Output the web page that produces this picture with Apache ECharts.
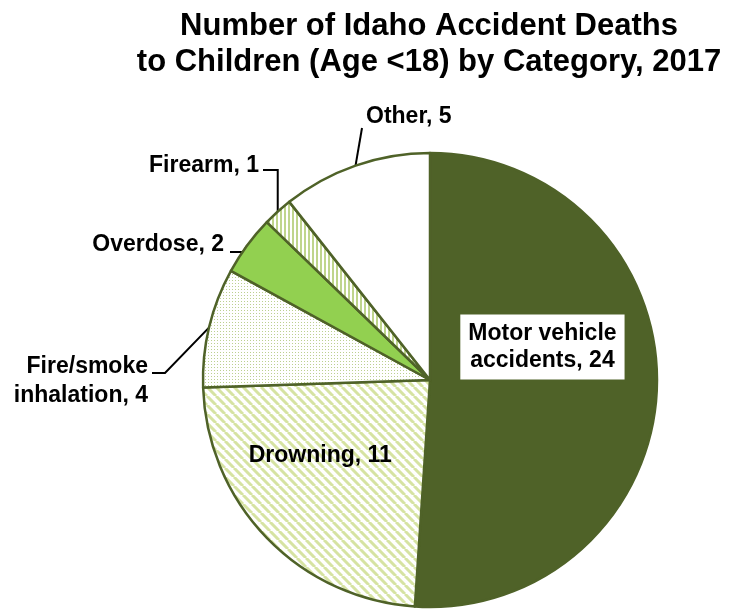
<!DOCTYPE html>
<html><head><meta charset="utf-8">
<script src="https://cdn.jsdelivr.net/npm/echarts@6/dist/echarts.min.js"></script>
<style>html,body{margin:0;padding:0;background:#fff}#c{width:729px;height:615px}</style>
</head><body><div id="c"></div>
<script>
// ---- data ----
const categories = ['Motor vehicle\naccidents', 'Drowning', 'Fire/smoke\ninhalation', 'Overdose', 'Firearm', 'Other'];
const values = [24, 11, 4, 2, 1, 5];
const titleLines = ['Number of Idaho Accident Deaths', 'to Children (Age <18) by Category, 2017'];

// ---- fills ----
function tile(w, h, draw) {
  const c = document.createElement('canvas'); c.width = w; c.height = h;
  const g = c.getContext('2d'); g.fillStyle = '#fff'; g.fillRect(0, 0, w, h); draw(g);
  return { image: c, repeat: 'repeat' };
}
const diag = tile(9, 9, g => { g.strokeStyle = '#d6e3a2'; g.lineWidth = 3; g.beginPath();
  for (let k = -9; k <= 18; k += 9) { g.moveTo(k, 0); g.lineTo(k + 9, 9); } g.stroke(); });
const dots = tile(3, 3, g => { g.fillStyle = '#bcd090'; g.fillRect(1, 1, 1, 1); });
const vstripe = tile(4, 1, g => { g.fillStyle = '#bfd58c'; g.fillRect(0, 0, 2, 1); });
const fills = ['#4f6228', diag, dots, '#92d050', vstripe, '#ffffff'];

const FONT = '"Liberation Sans", Arial, sans-serif';

// label placement (layout only)
const place = {
  0: { dx: -4, dy: -37 },
  1: { dx: -26, dy: -5 },
  2: { x: 148, y: 381, align: 'right', bends: [[165, 373], [152, 373]] },
  3: { x: 224, y: 245, align: 'right', bends: [[243, 252], [230, 252]] },
  4: { x: 259, y: 166, align: 'right', bends: [[null, 170], [263, 170]] },
  5: { x: 366, y: 117, align: 'left', bends: [[362, 128], [362, 128]] }
};

const chart = echarts.init(document.getElementById('c'), null, { renderer: 'canvas' });
chart.setOption({
  backgroundColor: '#fff',
  animation: false,
  title: {
    text: titleLines.join('\n'), left: 424, top: 3, textAlign: 'center',
    textStyle: { fontFamily: FONT, fontSize: 31, fontWeight: 'bold', color: '#000', lineHeight: 36 }
  },
  series: [{
    type: 'pie', center: [430, 380], radius: 227, startAngle: 90, clockwise: true,
    avoidLabelOverlap: false, silent: true,
    itemStyle: { borderColor: '#4f6228', borderWidth: 2.5 },
    label: {
      show: true, position: 'outside', formatter: p => p.name + ', ' + p.value,
      fontFamily: FONT, fontSize: 23, fontWeight: 'bold', color: '#000', lineHeight: 29
    },
    labelLine: { show: true, length: 12, length2: 12, lineStyle: { color: '#000', width: 2 } },
    emphasis: { disabled: true },
    data: values.map((v, i) => {
      const d = { name: categories[i], value: v, itemStyle: { color: fills[i] } };
      if (i === 0) { d.label = { position: 'inside', backgroundColor: '#fff', padding: [6, 8, 5, 8], lineHeight: 27 }; d.labelLine = { show: false }; }
      if (i === 1) { d.label = { position: 'inside' }; d.labelLine = { show: false }; }
      return d;
    }),
    labelLayout: function (params) {
      const p = place[params.dataIndex];
      if (!p) return {};
      if (p.dx !== undefined) return { dx: p.dx, dy: p.dy };
      const out = { x: p.x, y: p.y, align: p.align, verticalAlign: 'middle' };
      const pts = params.labelLinePoints;
      if (pts && pts.length) {
        const e = pts[0];
        out.labelLinePoints = [[e[0], e[1]]].concat(p.bends.map(b => [b[0] === null ? e[0] : b[0], b[1]]));
      }
      return out;
    }
  }]
});
</script></body></html>
